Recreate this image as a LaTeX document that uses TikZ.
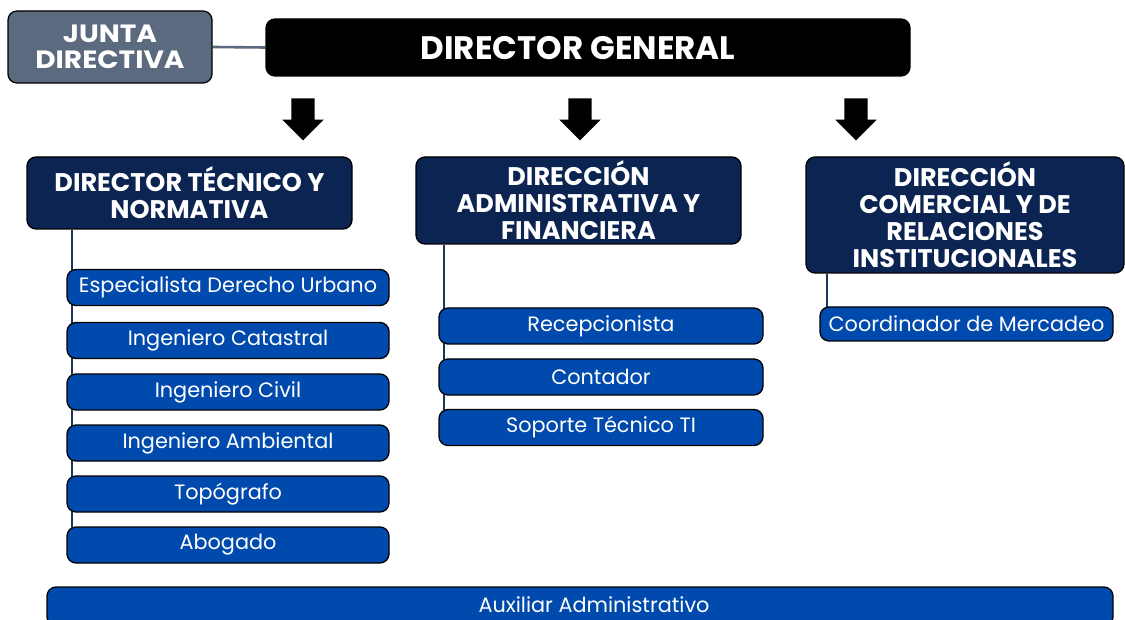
\documentclass[tikz,border=0pt]{standalone}
\usepackage{fontspec}
\setmainfont{Poppins}
\newfontfamily\hdfont{Poppins}[UprightFont=* Bold]
\newfontfamily\jdfont{Poppins}[UprightFont=* Bold, FakeStretch=1.12]
\usetikzlibrary{shapes.arrows,backgrounds}
\definecolor{navy}{HTML}{0B2452}
\definecolor{subblue}{HTML}{004AAD}
\definecolor{slate}{HTML}{5B6A7E}
\definecolor{linenavy}{HTML}{1E3557}
\tikzset{
  box/.style={draw=black, line width=1.3pt, rounded corners=9pt, inner sep=0pt, align=center, text=white},
  head/.style={box, fill=navy, font=\hdfont\fontsize{25.5}{27}\selectfont},
  sub/.style={box, fill=subblue, minimum height=36pt, font=\fontsize{20.8}{22}\selectfont},
  darrow/.style={single arrow, fill=black, draw=none, shape border rotate=270, minimum height=42pt, inner sep=11.5pt, single arrow head extend=9pt},
  vline/.style={draw=linenavy, line width=2.6pt}
}
\begin{document}
\begin{tikzpicture}[x=1pt,y=-1pt]
\useasboundingbox (0,0) rectangle (1125,620);
% top
\node[box, fill=slate, minimum width=204pt, minimum height=72pt, font=\jdfont\fontsize{25}{25.5}\selectfont] (jd) at (110,47) {JUNTA\\DIRECTIVA};
\node[box, fill=black, minimum width=644pt, minimum height=57pt] (dg) at (588,47.5) {};
\node[text=white, font=\hdfont\fontsize{32.5}{34}\selectfont] (dgt) at (578,48) {DIRECTOR GENERAL};
% arrows
\node[darrow] (a1) at (303,113.5) {};
\node[darrow] (a2) at (580,113.5) {};
\node[darrow] (a3) at (856,113.5) {};
% headers
\node[head, minimum width=325pt, minimum height=72pt] (h1) at (189.5,193) {DIRECTOR TÉCNICO Y\\NORMATIVA};
\node[head, minimum width=325pt, minimum height=87pt] (h2) at (578.5,200.5) {DIRECCIÓN\\ADMINISTRATIVA Y\\FINANCIERA};
\node[head, minimum width=318pt, minimum height=116pt] (h3) at (965,215) {DIRECCIÓN\\COMERCIAL Y DE\\RELACIONES\\INSTITUCIONALES};
% column 1
\node[sub, minimum width=322pt] (c1a) at (228,287.5) {Especialista Derecho Urbano};
\node[sub, minimum width=322pt] (c1b) at (228,340.5) {Ingeniero Catastral};
\node[sub, minimum width=322pt] (c1c) at (228,392) {Ingeniero Civil};
\node[sub, minimum width=322pt] (c1d) at (228,443) {Ingeniero Ambiental};
\node[sub, minimum width=322pt] (c1e) at (228,494) {Topógrafo};
\node[sub, minimum width=322pt] (c1f) at (228,545) {Abogado};
% column 2
\node[sub, minimum width=324pt] (c2a) at (601,326) {Recepcionista};
\node[sub, minimum width=324pt] (c2b) at (601,377) {Contador};
\node[sub, minimum width=324pt] (c2c) at (601,427.5) {Soporte Técnico TI};
% column 3
\node[sub, minimum width=293pt, minimum height=34pt] (c3a) at (966.5,324) {Coordinador de Mercadeo};
% bottom
\node[sub, minimum width=1066pt, minimum height=39pt] (aux) at (580,606.5) {};
\node[text=white, font=\fontsize{20.8}{22}\selectfont, anchor=base] (auxt) at (594,612) {Auxiliar Administrativo};
% connectors
\begin{pgfonlayer}{background}
\draw[draw=slate, line width=2.6pt] (jd.east) -- (dg.west);
\coordinate (e1) at (72,555);
\coordinate (e2) at (444,440);
\coordinate (e3) at (827,320);
\draw[vline] (e1 |- h1.south) -- (e1);
\draw[vline] (e2 |- h2.south) -- (e2);
\draw[vline] (e3 |- h3.south) -- (e3);
\end{pgfonlayer}
\end{tikzpicture}
\end{document}
